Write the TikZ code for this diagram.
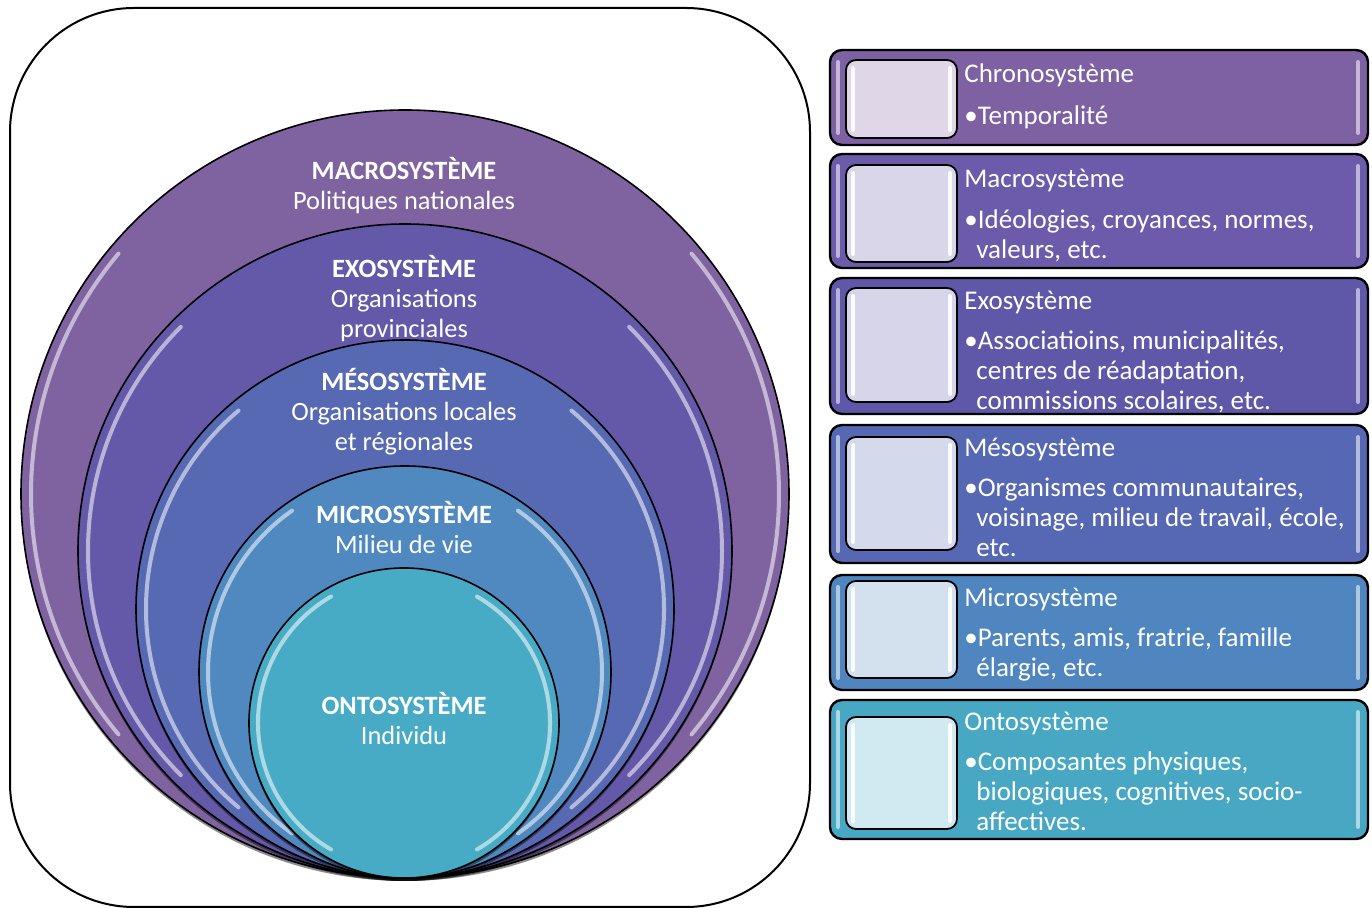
\documentclass[tikz,border=0pt]{standalone}
\usepackage{fontspec}
\setmainfont{Carlito}
\usepackage{tikz}
\usepackage{xcolor}

% circle colours
\definecolor{kmac}{HTML}{7F63A0}
\definecolor{kexo}{HTML}{6459A8}
\definecolor{kmes}{HTML}{5769B2}
\definecolor{kmic}{HTML}{4F89C0}
\definecolor{kont}{HTML}{48ABC5}
% box colours
\definecolor{cchr}{HTML}{7D61A2}
\definecolor{cmac}{HTML}{6B5BAA}
\definecolor{cexo}{HTML}{5F58A9}
\definecolor{cmes}{HTML}{5668B3}
\definecolor{cmic}{HTML}{4F86C0}
\definecolor{cont}{HTML}{48A8C4}

\begin{document}
\begin{tikzpicture}[x=0.5pt,y=-0.5pt,font=\fontsize{13.5}{15}\selectfont,
  ring/.style={draw=black,line width=0.8pt},
  gloss/.style={white,line width=2pt,line cap=round,opacity=.55},
  sysbox/.style={draw=black,line width=1.2pt,rounded corners=6pt},
  innersq/.style={draw=black,line width=0.9pt,rounded corners=5pt},
  lbl/.style={text=white,align=center,inner sep=0pt,font=\fontsize{13.2}{15}\selectfont},
  boxtxt/.style={text=white,align=left,anchor=base west,inner sep=0pt}]
\useasboundingbox (0,0) rectangle (1372,908);
\draw[line width=1pt,rounded corners=62pt] (10,8) rectangle (810,907);

% nested circles, all touching at the bottom
\fill[black,opacity=.45] (405,497) circle (384);
\draw[ring,fill=kmac] (405,494) circle (384);
\draw[gloss] (405,494) ++(140:374) arc (140:220:374);
\draw[gloss] (405,494) ++(-40:374) arc (-40:40:374);
\fill[black,opacity=.45] (405,554) circle (327);
\draw[ring,fill=kexo] (405,551) circle (327);
\draw[gloss] (405,551) ++(135:317) arc (135:225:317);
\draw[gloss] (405,551) ++(-45:317) arc (-45:45:317);
\fill[black,opacity=.45] (405,612) circle (269);
\draw[ring,fill=kmes] (405,609) circle (269);
\draw[gloss] (405,609) ++(130:259) arc (130:230:259);
\draw[gloss] (405,609) ++(-50:259) arc (-50:50:259);
\fill[black,opacity=.45] (405,675) circle (206);
\draw[ring,fill=kmic] (405,672) circle (206);
\draw[gloss] (405,672) ++(125:197) arc (125:235:197);
\draw[gloss] (405,672) ++(-55:197) arc (-55:55:197);
\fill[black,opacity=.45] (404,726) circle (155);
\draw[ring,fill=kont] (404,723) circle (155);
\draw[gloss] (404,723) ++(120:146) arc (120:240:146);
\draw[gloss] (404,723) ++(-60:146) arc (-60:60:146);

\node[lbl] (lmac) at (404,186) {\textbf{MACROSYSTÈME}\\Politiques nationales};
\node[lbl] (lexo) at (404,299) {\textbf{EXOSYSTÈME}\\Organisations\\provinciales};
\node[lbl] (lmes) at (404,412) {\textbf{MÉSOSYSTÈME}\\Organisations locales\\et régionales};
\node[lbl] (lmic) at (404,528) {\textbf{MICROSYSTÈME}\\Milieu de vie};
\node[lbl] (lont) at (404,719) {\textbf{ONTOSYSTÈME}\\Individu};

% legend boxes (text nodes sit on the baseline of their last line)
\draw[sysbox,fill=cchr] (830,50) rectangle (1368,145);
\draw[gloss] (838,62)--(838,133) (1358,62)--(1358,133);
\draw[innersq,fill=cchr!25!white] (846,60) rectangle (957,138);
\draw[gloss,opacity=.9] (853,68)--(853,130) (950,68)--(950,130);
\node[boxtxt] (tchr) at (964,83) {Chronosystème};
\node[boxtxt] (dchr) at (964,125) {•Temporalité};

\draw[sysbox,fill=cmac] (830,154) rectangle (1368,268);
\draw[gloss] (838,166)--(838,256) (1358,166)--(1358,256);
\draw[innersq,fill=cmac!25!white] (846,165) rectangle (957,262);
\draw[gloss,opacity=.9] (853,173)--(853,254) (950,173)--(950,254);
\node[boxtxt] (tmac) at (964,188) {Macrosystème};
\node[boxtxt] (dmac) at (964,259) {•Idéologies, croyances, normes,\\\hspace*{6pt}valeurs, etc.};

\draw[sysbox,fill=cexo] (830,278) rectangle (1368,414);
\draw[gloss] (838,290)--(838,402) (1358,290)--(1358,402);
\draw[innersq,fill=cexo!25!white] (846,288) rectangle (957,402);
\draw[gloss,opacity=.9] (853,296)--(853,394) (950,296)--(950,394);
\node[boxtxt] (texo) at (964,310) {Exosystème};
\node[boxtxt] (dexo) at (964,410) {•Associatioins, municipalités,\\\hspace*{6pt}centres de réadaptation,\\\hspace*{6pt}commissions scolaires, etc.};

\draw[sysbox,fill=cmes] (830,425) rectangle (1368,563);
\draw[gloss] (838,437)--(838,551) (1358,437)--(1358,551);
\draw[innersq,fill=cmes!25!white] (846,437) rectangle (957,550);
\draw[gloss,opacity=.9] (853,445)--(853,542) (950,445)--(950,542);
\node[boxtxt] (tmes) at (964,457) {Mésosystème};
\node[boxtxt] (dmes) at (964,557) {•Organismes communautaires,\\\hspace*{6pt}voisinage, milieu de travail, école,\\\hspace*{6pt}etc.};

\draw[sysbox,fill=cmic] (830,575) rectangle (1368,690);
\draw[gloss] (838,587)--(838,678) (1358,587)--(1358,678);
\draw[innersq,fill=cmic!25!white] (846,581) rectangle (957,678);
\draw[gloss,opacity=.9] (853,589)--(853,670) (950,589)--(950,670);
\node[boxtxt] (tmic) at (964,607) {Microsystème};
\node[boxtxt] (dmic) at (964,677) {•Parents, amis, fratrie, famille\\\hspace*{6pt}élargie, etc.};

\draw[sysbox,fill=cont] (830,700) rectangle (1368,839);
\draw[gloss] (838,712)--(838,827) (1358,712)--(1358,827);
\draw[innersq,fill=cont!25!white] (846,717) rectangle (957,829);
\draw[gloss,opacity=.9] (853,725)--(853,821) (950,725)--(950,821);
\node[boxtxt] (tont) at (964,731) {Ontosystème};
\node[boxtxt] (dont) at (964,831) {•Composantes physiques,\\\hspace*{6pt}biologiques, cognitives, socio-\\\hspace*{6pt}affectives.};
\end{tikzpicture}
\end{document}
